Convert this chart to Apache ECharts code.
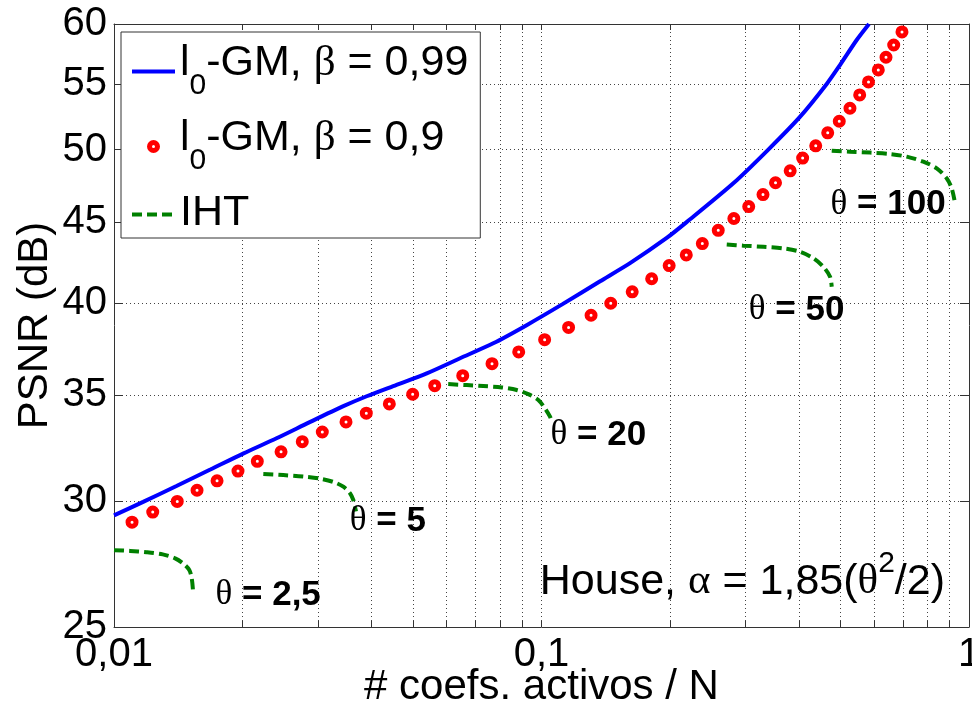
<!DOCTYPE html>
<html>
<head>
<meta charset="utf-8">
<title>PSNR frente a coeficientes activos</title>
<script src="https://cdn.jsdelivr.net/npm/echarts@6/dist/echarts.min.js"></script>
<style>
html, body { margin: 0; padding: 0; background: #fff; }
#chart { width: 972px; height: 708px; }
</style>
</head>
<body>
<div id="chart"></div>
<script>
// l0-GM, beta = 0,99 (linea azul)
var gm99X = [0.0100, 0.0117, 0.0140, 0.0168, 0.0201, 0.0240, 0.0287, 0.0344, 0.0390, 0.0450,
             0.0539, 0.0645, 0.0771, 0.0923, 0.1120, 0.1371, 0.1611, 0.1963, 0.2185, 0.2810,
             0.3393, 0.4023, 0.4647, 0.4991, 0.5461, 0.5835];
var gm99Y = [29.40, 29.98, 30.68, 31.42, 32.17, 32.88, 33.66, 34.45, 34.95, 35.47,
             36.13, 36.93, 37.74, 38.75, 39.95, 41.30, 42.40, 43.98, 45.00, 47.61,
             50.00, 52.43, 55.00, 56.53, 58.62, 60.00];

// l0-GM, beta = 0,9 (puntos rojos)
var gm90X = [0.01102, 0.01232, 0.01406, 0.01564, 0.01742, 0.01950, 0.02164, 0.02459, 0.02757, 0.03071,
             0.03489, 0.03892, 0.04406, 0.04996, 0.05626, 0.06543, 0.07660, 0.08845, 0.1017, 0.1157,
             0.1306, 0.1452, 0.1630, 0.1810, 0.1989, 0.2181, 0.2378, 0.2591, 0.2818, 0.3053,
             0.3297, 0.3527, 0.3817, 0.4082, 0.4380, 0.4672, 0.4972, 0.5267, 0.5550, 0.5820,
             0.6135, 0.6395, 0.6666, 0.6970];
var gm90Y = [29.11, 29.54, 30.00, 30.49, 30.91, 31.35, 31.80, 32.24, 32.72, 33.18,
             33.67, 34.10, 34.56, 35.05, 35.49, 36.01, 36.64, 37.27, 37.94, 38.62,
             39.31, 40.00, 40.67, 41.45, 42.25, 42.91, 43.62, 44.47, 45.24, 46.03,
             46.84, 47.65, 48.48, 49.39, 50.27, 51.23, 52.10, 53.09, 54.13, 55.16,
             56.13, 57.17, 58.20, 59.31];

// IHT, una curva por cada theta
var ihtTheta = ['2,5', '5', '20', '50', '100'];
var ihtX = [
  [0.0100, 0.0109, 0.0119, 0.0130, 0.0139, 0.0145, 0.0150, 0.0152, 0.0153],
  [0.02235, 0.02489, 0.02772, 0.03033, 0.03259, 0.03439, 0.03565, 0.03629, 0.03662, 0.03682],
  [0.0605, 0.0669, 0.0731, 0.0807, 0.0875, 0.0931, 0.0983, 0.1019, 0.1047, 0.1056],
  [0.2712, 0.2966, 0.3303, 0.3678, 0.4023, 0.4324, 0.4563, 0.4731, 0.4774],
  [0.4774, 0.5267, 0.5867, 0.6534, 0.7150, 0.7818, 0.8403, 0.8866, 0.9108, 0.9272]
];
var ihtY = [
  [27.95, 27.92, 27.87, 27.78, 27.62, 27.42, 27.16, 26.83, 26.38],
  [31.22, 31.17, 31.10, 31.01, 30.86, 30.65, 30.36, 30.06, 29.77, 29.57],
  [35.57, 35.52, 35.47, 35.40, 35.27, 35.06, 34.76, 34.34, 33.93, 33.68],
  [43.57, 43.49, 43.42, 43.32, 43.11, 42.70, 42.18, 41.57, 40.97],
  [49.92, 49.85, 49.78, 49.68, 49.49, 49.13, 48.66, 47.96, 47.27, 46.29]
];

// donde va cada texto "θ = ..." (esquina izquierda, centro vertical)
var etiqX = [0.01723, 0.03551, 0.1047, 0.3047, 0.4731];
var etiqY = [26.19, 29.16, 33.04, 39.61, 46.17];
var casaX = 0.09882;
var casaY = 26.92;

// ticks
var xTicks = [0.01, 0.1, 1];
var xGrid = [0.01, 0.02, 0.03, 0.04, 0.05, 0.06, 0.07, 0.08, 0.09,
             0.1, 0.2, 0.3, 0.4, 0.5, 0.6, 0.7, 0.8, 0.9, 1];
var yTicks = [25, 30, 35, 40, 45, 50, 55, 60];

var nombre99 = 'l0-GM, β = 0,99';
var nombre90 = 'l0-GM, β = 0,9';

var fuente = "'Liberation Sans', Arial, Helvetica, sans-serif";
var griega = "'Liberation Serif', 'DejaVu Serif', serif";

function pares(xs, ys) {
  return xs.map(function (x, i) { return [x, ys[i]]; });
}

function comaDecimal(v) {
  return String(+v.toPrecision(6)).replace('.', ',');
}

function ejeX(abajo) {
  return {
    type: 'log', logBase: 10, min: 0.01, max: 1,
    position: abajo ? 'bottom' : 'top',
    name: abajo ? '# coefs. activos / N' : '',
    nameLocation: 'middle',
    nameGap: 39,
    nameMoveOverlap: false,
    nameTextStyle: { fontSize: 42, fontFamily: fuente, color: '#000' },
    axisLine: { show: true, onZero: false, lineStyle: { color: '#333', width: 1 } },
    axisTick: { show: true, inside: true, length: 6, customValues: xGrid, lineStyle: { color: '#333' } },
    axisLabel: { show: abajo, customValues: xTicks, formatter: comaDecimal,
                 fontSize: 40, fontFamily: fuente, color: '#000', margin: 8 },
    splitLine: { show: abajo, lineStyle: { color: '#444', type: [1, 3], width: 1 } },
    minorTick: { show: false }, minorSplitLine: { show: false }
  };
}

function ejeY(izq) {
  return {
    type: 'log', logBase: 10, min: 25, max: 60,
    position: izq ? 'left' : 'right',
    name: izq ? 'PSNR (dB)' : '',
    nameLocation: 'middle',
    nameGap: 58,
    nameMoveOverlap: false,
    nameTextStyle: { fontSize: 42, fontFamily: fuente, color: '#000' },
    axisLine: { show: true, onZero: false, lineStyle: { color: '#333', width: 1 } },
    axisTick: { show: true, inside: true, length: 9, customValues: yTicks, lineStyle: { color: '#333' } },
    axisLabel: { show: izq, customValues: yTicks,
                 formatter: function (v) { return String(Math.round(v)); },
                 fontSize: 40, fontFamily: fuente, color: '#000', margin: 7 },
    splitLine: { show: izq, lineStyle: { color: '#444', type: [1, 3], width: 1 } },
    minorTick: { show: false }, minorSplitLine: { show: false }
  };
}

var series = [];

series.push({
  name: nombre99,
  type: 'line',
  data: pares(gm99X, gm99Y),
  symbol: 'none',
  smooth: 0.25,
  lineStyle: { color: '#0000ff', width: 4 },
  itemStyle: { color: '#0000ff' },
  z: 3
});

series.push({
  name: nombre90,
  type: 'scatter',
  data: pares(gm90X, gm90Y),
  symbol: 'circle',
  symbolSize: 8,
  itemStyle: { color: '#ffffff', borderColor: '#ff0000', borderWidth: 5, opacity: 1 },
  z: 4
});

for (var k = 0; k < ihtX.length; k++) {
  series.push({
    name: 'IHT',
    type: 'line',
    data: pares(ihtX[k], ihtY[k]),
    symbol: 'none',
    smooth: 0.3,
    lineStyle: { color: '#008000', width: 4, type: [10, 5] },
    itemStyle: { color: '#008000' },
    z: 3
  });
}

// textos theta = ...
series.push({
  name: 'etiquetas',
  type: 'scatter',
  silent: true,
  symbolSize: 1,
  itemStyle: { color: 'rgba(255,255,255,0)' },
  data: etiqX.map(function (x, i) { return { name: ihtTheta[i], value: [x, etiqY[i]] }; }),
  label: {
    show: true, position: 'right', distance: 0,
    color: '#000', opacity: 1, textBorderWidth: 0,
    formatter: function (p) { return '{g|θ}{b| = ' + p.name + '}'; },
    rich: {
      g: { fontFamily: griega, fontSize: 35, color: '#000' },
      b: { fontFamily: fuente, fontSize: 35, fontWeight: 'bold', color: '#000' }
    }
  },
  z: 6
});

series.push({
  name: 'casa',
  type: 'scatter',
  silent: true,
  symbolSize: 1,
  itemStyle: { color: 'rgba(255,255,255,0)' },
  data: [[casaX, casaY]],
  label: {
    show: true, position: 'right', distance: 0,
    color: '#000', opacity: 1, textBorderWidth: 0,
    formatter: '{t|House, }{g|α}{t| = 1,85(}{g|θ}{sup|2}{t|/2)}',
    rich: {
      t: { fontFamily: fuente, fontSize: 43, color: '#000', verticalAlign: 'bottom', lineHeight: 45 },
      g: { fontFamily: griega, fontSize: 43, color: '#000', verticalAlign: 'bottom', lineHeight: 45 },
      sup: { fontFamily: fuente, fontSize: 30, color: '#000', verticalAlign: 'top', lineHeight: 55 }
    }
  },
  z: 6
});

var chart = echarts.init(document.getElementById('chart'));

var option = {
  animation: false,
  backgroundColor: '#ffffff',
  grid: { left: 114, right: 3, top: 24, bottom: 81, containLabel: false, outerBoundsMode: 'none' },
  xAxis: [ejeX(true), ejeX(false)],
  yAxis: [ejeY(true), ejeY(false)],
  legend: {
    orient: 'vertical',
    left: 121, top: 32,
    padding: [10, 12, 3, 9],
    itemGap: 16,
    itemWidth: 43,
    itemHeight: 8,
    backgroundColor: '#ffffff',
    borderColor: '#333',
    borderWidth: 1,
    borderRadius: 0,
    selectedMode: false,
    lineStyle: { width: 4 },
    data: [
      { name: nombre99, itemStyle: { opacity: 0 } },
      { name: nombre90, itemStyle: { color: '#ffffff', borderColor: '#ff0000', borderWidth: 5 } },
      { name: 'IHT', itemStyle: { opacity: 0 } }
    ],
    formatter: function (n) {
      if (n === 'IHT') return '{t|IHT}';
      var resto = n.slice(2).split('β');
      return '{t|l}{sub|0}{t|' + resto[0] + '}{g|β}{t|' + resto[1] + '}';
    },
    textStyle: {
      color: '#000',
      rich: {
        t: { fontFamily: fuente, fontSize: 43, color: '#000', verticalAlign: 'top', lineHeight: 45 },
        g: { fontFamily: griega, fontSize: 43, color: '#000', verticalAlign: 'top', lineHeight: 45 },
        sub: { fontFamily: fuente, fontSize: 30, color: '#000', verticalAlign: 'bottom', lineHeight: 59 }
      }
    }
  },
  series: series
};

chart.setOption(option);
</script>
</body>
</html>
